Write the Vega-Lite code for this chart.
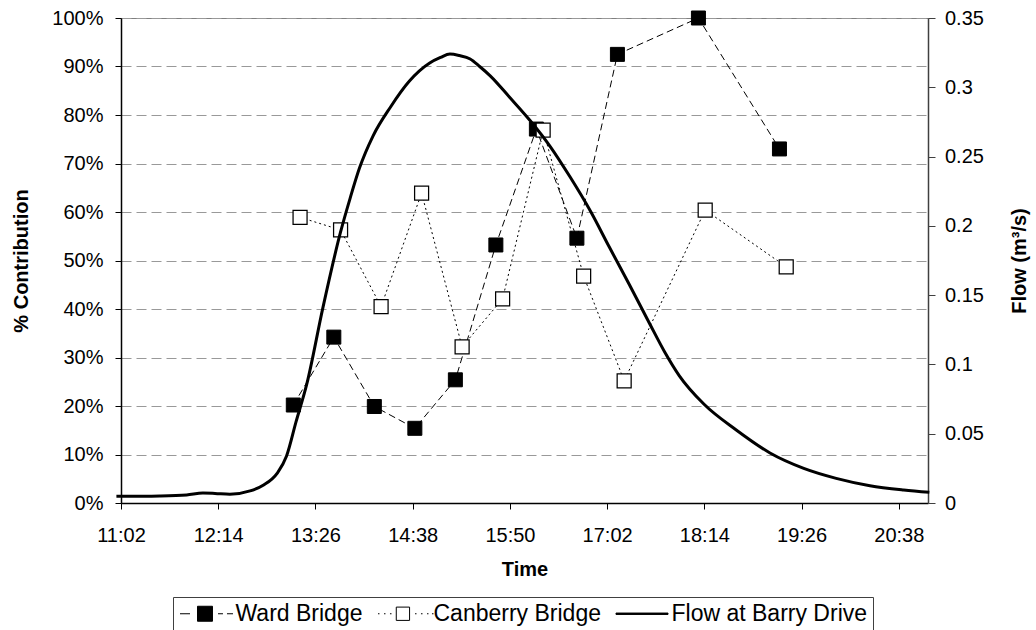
{
  "$schema": "https://vega.github.io/schema/vega-lite/v6.json",
  "width": 807,
  "height": 485,
  "autosize": {"type": "none"},
  "padding": {"left": 121, "top": 18, "right": 108, "bottom": 127},
  "background": "white",
  "config": {
    "font": "Liberation Sans",
    "view": {"stroke": "#808080", "strokeWidth": 1},
    "axis": {
      "labelFont": "Liberation Sans",
      "labelFontSize": 20,
      "labelColor": "black",
      "titleFont": "Liberation Sans",
      "titleFontSize": 20,
      "titleFontWeight": "bold",
      "titleColor": "black",
      "domainColor": "black",
      "domainWidth": 1.5,
      "tickColor": "black",
      "tickWidth": 1,
      "tickSize": 6,
      "grid": false,
      "labelOverlap": false,
      "labelFlush": false,
      "labelBound": false
    },
    "legend": {
      "labelFont": "Liberation Sans",
      "labelFontSize": 23,
      "labelColor": "black",
      "labelLimit": 400,
      "strokeColor": "#404040",
      "fillColor": "white",
      "padding": 5,
      "symbolSize": 196,
      "symbolStrokeColor": "black",
      "symbolStrokeWidth": 1,
      "symbolOpacity": 1,
      "symbolOffset": -2.5,
      "labelOffset": 37,
      "columnPadding": 13,
      "rowPadding": 0
    }
  },
  "encoding": {
    "x": {
      "field": "time",
      "type": "temporal",
      "scale": {
        "domain": [
          {"year": 1900, "month": 1, "date": 1, "hours": 11, "minutes": 2, "seconds": 24},
          {"year": 1900, "month": 1, "date": 1, "hours": 21, "minutes": 0, "seconds": 0}
        ],
        "nice": false
      },
      "axis": {
        "title": "Time",
        "titleX": 403.5,
        "titleY": 66.5,
        "titleAlign": "center",
        "titleBaseline": "middle",
        "format": "%H:%M",
        "labelPadding": 16,
        "values": [
          {"year": 1900, "month": 1, "date": 1, "hours": 11, "minutes": 2, "seconds": 24},
          {"year": 1900, "month": 1, "date": 1, "hours": 12, "minutes": 14, "seconds": 24},
          {"year": 1900, "month": 1, "date": 1, "hours": 13, "minutes": 26, "seconds": 24},
          {"year": 1900, "month": 1, "date": 1, "hours": 14, "minutes": 38, "seconds": 24},
          {"year": 1900, "month": 1, "date": 1, "hours": 15, "minutes": 50, "seconds": 24},
          {"year": 1900, "month": 1, "date": 1, "hours": 17, "minutes": 2, "seconds": 24},
          {"year": 1900, "month": 1, "date": 1, "hours": 18, "minutes": 14, "seconds": 24},
          {"year": 1900, "month": 1, "date": 1, "hours": 19, "minutes": 26, "seconds": 24},
          {"year": 1900, "month": 1, "date": 1, "hours": 20, "minutes": 38, "seconds": 24}
        ]
      }
    }
  },
  "layer": [
    {
      "data": {
        "values": [
          {"time": "13:10", "site": "Ward Bridge", "contribution": 0.202},
          {"time": "13:40", "site": "Ward Bridge", "contribution": 0.342},
          {"time": "14:10", "site": "Ward Bridge", "contribution": 0.199},
          {"time": "14:40", "site": "Ward Bridge", "contribution": 0.154},
          {"time": "15:10", "site": "Ward Bridge", "contribution": 0.254},
          {"time": "15:40", "site": "Ward Bridge", "contribution": 0.532},
          {"time": "16:10", "site": "Ward Bridge", "contribution": 0.771},
          {"time": "16:40", "site": "Ward Bridge", "contribution": 0.546},
          {"time": "17:10", "site": "Ward Bridge", "contribution": 0.925},
          {"time": "18:10", "site": "Ward Bridge", "contribution": 1.0},
          {"time": "19:10", "site": "Ward Bridge", "contribution": 0.73},
          {"time": "13:15", "site": "Canberry Bridge", "contribution": 0.589},
          {"time": "13:45", "site": "Canberry Bridge", "contribution": 0.563},
          {"time": "14:15", "site": "Canberry Bridge", "contribution": 0.405},
          {"time": "14:45", "site": "Canberry Bridge", "contribution": 0.639},
          {"time": "15:15", "site": "Canberry Bridge", "contribution": 0.322},
          {"time": "15:45", "site": "Canberry Bridge", "contribution": 0.421},
          {"time": "16:15", "site": "Canberry Bridge", "contribution": 0.769},
          {"time": "16:45", "site": "Canberry Bridge", "contribution": 0.468},
          {"time": "17:15", "site": "Canberry Bridge", "contribution": 0.252},
          {"time": "18:15", "site": "Canberry Bridge", "contribution": 0.604},
          {"time": "19:15", "site": "Canberry Bridge", "contribution": 0.487}
        ],
        "format": {"parse": {"time": "date:'%H:%M'"}}
      },
      "encoding": {
        "y": {
          "field": "contribution",
          "type": "quantitative",
          "scale": {"domain": [0, 1], "nice": false},
          "axis": {
            "title": "% Contribution",
            "titleX": -99.5,
            "titleY": 242.5,
            "titleAngle": -90,
            "titleAlign": "center",
            "titleBaseline": "middle",
            "format": ".0%",
            "values": [0, 0.1, 0.2, 0.3, 0.4, 0.5, 0.6, 0.7, 0.8, 0.9, 1],
            "labelPadding": 12,
            "grid": true,
            "gridColor": "#999999",
            "gridDash": [10, 5],
            "gridWidth": 1
          }
        }
      },
      "layer": [
        {
          "transform": [{"filter": "datum.site === 'Ward Bridge'"}],
          "mark": {"type": "line", "color": "black", "strokeWidth": 1, "strokeDash": [7, 4]}
        },
        {
          "transform": [{"filter": "datum.site === 'Ward Bridge'"}],
          "mark": {"type": "point", "shape": "square", "size": 196, "filled": true, "fill": "black", "stroke": "black", "strokeWidth": 1, "opacity": 1}
        },
        {
          "transform": [{"filter": "datum.site === 'Canberry Bridge'"}],
          "mark": {"type": "line", "color": "black", "strokeWidth": 1, "strokeDash": [2, 3]}
        },
        {
          "transform": [{"filter": "datum.site === 'Canberry Bridge'"}],
          "mark": {"type": "point", "shape": "square", "size": 196, "filled": true, "fill": "white", "stroke": "black", "strokeWidth": 1.25, "opacity": 1}
        },
        {
          "transform": [{"filter": "false"}],
          "mark": {"type": "point", "filled": true, "size": 196, "stroke": "black", "strokeWidth": 1, "opacity": 1},
          "encoding": {
            "shape": {
              "field": "site",
              "type": "nominal",
              "scale": {
                "domain": ["Ward Bridge", "Canberry Bridge", "Flow at Barry Drive"],
                "range": [
                  "M-1,0H0.43M1.5,-1.07H3.64V1.07H1.5ZM4.43,0H5.14M5.71,0H6.57",
                  "M-1,0H-0.79M-0.14,0H0.07M0.71,0H0.93M1.61,-0.95H3.51V0.95H1.61ZM4.29,0H4.5M5.14,0H5.36M6,0H6.21M6.71,0H6.93",
                  "M-1,-0.1H6.43V0.1H-1Z"
                ]
              },
              "legend": {
                "title": null, "orient": "none", "legendX": 52, "legendY": 579, "direction": "horizontal",
                "encode": {"symbols": {"update": {"stroke": {"value": "black"}, "strokeWidth": {"value": 1}, "opacity": {"value": 1}}}}
              }
            },
            "fill": {
              "field": "site",
              "type": "nominal",
              "scale": {
                "domain": ["Ward Bridge", "Canberry Bridge", "Flow at Barry Drive"],
                "range": ["black", "white", "black"]
              },
              "legend": {
                "title": null, "orient": "none", "legendX": 52, "legendY": 579, "direction": "horizontal",
                "encode": {"symbols": {"update": {"stroke": {"value": "black"}, "strokeWidth": {"value": 1}, "opacity": {"value": 1}}}}
              }
            }
          }
        }
      ]
    },
    {
      "data": {
        "values": [
          {"time": "10:59", "flow": 0.0048},
          {"time": "11:31", "flow": 0.0051},
          {"time": "11:51", "flow": 0.0058},
          {"time": "12:03", "flow": 0.0072},
          {"time": "12:12", "flow": 0.0069},
          {"time": "12:23", "flow": 0.0063},
          {"time": "12:38", "flow": 0.0087},
          {"time": "12:48", "flow": 0.0130},
          {"time": "12:58", "flow": 0.0214},
          {"time": "13:05", "flow": 0.0339},
          {"time": "13:12", "flow": 0.0585},
          {"time": "13:20", "flow": 0.0859},
          {"time": "13:32", "flow": 0.1414},
          {"time": "13:45", "flow": 0.1956},
          {"time": "13:52", "flow": 0.2197},
          {"time": "13:59", "flow": 0.2417},
          {"time": "14:09", "flow": 0.2648},
          {"time": "14:22", "flow": 0.2858},
          {"time": "14:36", "flow": 0.3045},
          {"time": "14:51", "flow": 0.3175},
          {"time": "14:59", "flow": 0.3215},
          {"time": "15:06", "flow": 0.3240},
          {"time": "15:13", "flow": 0.3229},
          {"time": "15:21", "flow": 0.3204},
          {"time": "15:28", "flow": 0.3150},
          {"time": "15:36", "flow": 0.3081},
          {"time": "15:50", "flow": 0.2930},
          {"time": "16:05", "flow": 0.2764},
          {"time": "16:20", "flow": 0.2576},
          {"time": "16:35", "flow": 0.2352},
          {"time": "16:50", "flow": 0.2107},
          {"time": "17:04", "flow": 0.1847},
          {"time": "17:19", "flow": 0.1573},
          {"time": "17:34", "flow": 0.1292},
          {"time": "17:45", "flow": 0.1090},
          {"time": "17:56", "flow": 0.0916},
          {"time": "18:14", "flow": 0.0714},
          {"time": "18:38", "flow": 0.0527},
          {"time": "19:03", "flow": 0.0361},
          {"time": "19:28", "flow": 0.0250},
          {"time": "19:52", "flow": 0.0178},
          {"time": "20:17", "flow": 0.0125},
          {"time": "20:42", "flow": 0.0094},
          {"time": "21:01", "flow": 0.0077}
        ],
        "format": {"parse": {"time": "date:'%H:%M'"}}
      },
      "mark": {"type": "line", "color": "black", "strokeWidth": 3, "interpolate": "monotone"},
      "encoding": {
        "y": {
          "field": "flow",
          "type": "quantitative",
          "scale": {"domain": [0, 0.35], "nice": false},
          "axis": {
            "orient": "right",
            "title": "Flow (m³/s)",
            "titleX": 91.5,
            "titleY": 242.5,
            "titleAngle": -90,
            "titleAlign": "center",
            "titleBaseline": "middle",
            "values": [0, 0.05, 0.1, 0.15, 0.2, 0.25, 0.3, 0.35],
            "format": "~g",
            "tickSize": 7,
            "labelPadding": 9.5,
            "domainColor": "#404040",
            "tickColor": "#404040"
          }
        }
      }
    }
  ],
  "resolve": {"scale": {"y": "independent"}, "axis": {"y": "independent"}}
}
